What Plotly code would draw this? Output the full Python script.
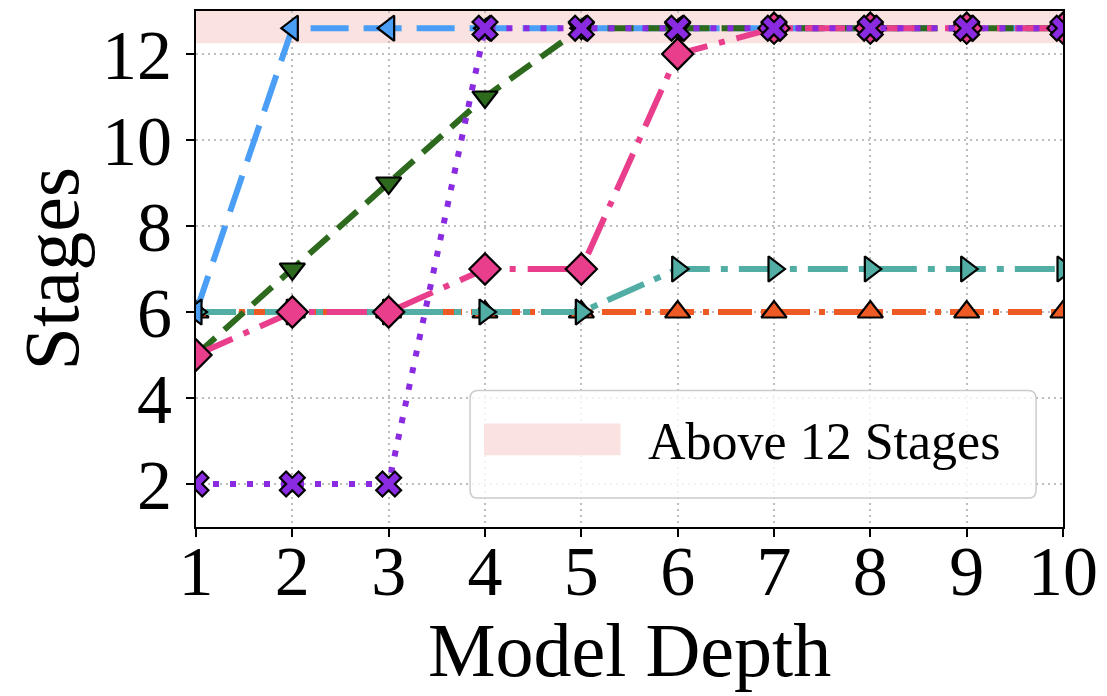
import plotly.graph_objects as go

# ---------------- data ----------------
depth = [1, 2, 3, 4, 5, 6, 7, 8, 9, 10]
CAP = 12.6  # values above 12 stages are drawn inside the shaded band
stages_orange = [6, 6, 6, 6, 6, 6, 6, 6, 6, 6]
stages_teal = [6, 6, 6, 6, 6, 7, 7, 7, 7, 7]
stages_blue = [6, CAP, CAP, CAP, CAP, CAP, CAP, CAP, CAP, CAP]
stages_green = [5, 7, 9, 11, CAP, CAP, CAP, CAP, CAP, CAP]
stages_pink = [5, 6, 6, 7, 7, 12, CAP, CAP, CAP, CAP]
stages_purple = [2, 2, 2, CAP, CAP, CAP, CAP, CAP, CAP, CAP]
y_ticks = [2, 4, 6, 8, 10, 12]
band_low, band_high = 12.25, 13
legend_label = "Above 12 Stages"

# ---------------- styles ----------------
FONT = "Liberation Serif"
BAND = "#f9e2df"
W, H = 1107, 696
ML, MR, MT, MB = 196, 41, 9, 169
PW, PH = W - ML - MR, H - MT - MB


def px_x(px):
    return (px - ML) / PW


def px_y(py):
    return (H - MB - py) / PH


series = [
    (stages_orange, "#ee5a24", "34px,9px,6px,9px", "triangle-up", 22),
    (stages_teal, "#52aea4", "40px,11px,7px,11px", "triangle-right", 22),
    (stages_blue, "#4a9ef5", "38px,15px", "triangle-left", 22),
    (stages_green, "#2d6a1e", "26px,12px", "triangle-down", 22),
    (stages_pink, "#e83e8c", "40px,12px,6px,12px", "diamond", 24),
    (stages_purple, "#8a2be2", "6px,11px", "x", 22),
]

fig = go.Figure()
for vals, color, dash, sym, size in series:
    fig.add_trace(go.Scatter(
        x=depth, y=vals, mode="lines+markers", showlegend=False,
        line=dict(color=color, width=6, dash=dash),
        marker=dict(symbol=sym, size=size, color=color,
                    line=dict(color="black", width=2.2)),
    ))

# shaded band "Above 12 Stages"
fig.add_shape(type="rect", xref="paper", yref="y", x0=0, x1=1,
              y0=band_low, y1=band_high, fillcolor=BAND, line_width=0,
              layer="between")

# manual legend box with rounded corners
bx0, bx1, by0, by1 = px_x(471), px_x(1039), px_y(498), px_y(390)
rx, ry = 8 / PW, 8 / PH
path = (f"M {bx0+rx},{by0} L {bx1-rx},{by0} Q {bx1},{by0} {bx1},{by0+ry} "
        f"L {bx1},{by1-ry} Q {bx1},{by1} {bx1-rx},{by1} "
        f"L {bx0+rx},{by1} Q {bx0},{by1} {bx0},{by1-ry} "
        f"L {bx0},{by0+ry} Q {bx0},{by0} {bx0+rx},{by0} Z")
fig.add_shape(type="path", xref="paper", yref="paper", path=path,
              fillcolor="rgba(255,255,255,0.8)",
              line=dict(color="#cccccc", width=1.5), layer="above")
fig.add_shape(type="rect", xref="paper", yref="paper",
              x0=px_x(485), x1=px_x(622), y0=px_y(455), y1=px_y(423),
              fillcolor=BAND, line_width=0, layer="above")
fig.add_annotation(x=px_x(648), y=px_y(441), xref="paper", yref="paper",
                   text=legend_label, showarrow=False, xanchor="left",
                   yanchor="middle", font=dict(family=FONT, size=52, color="black"))

# axis titles
fig.add_annotation(x=0.5, y=px_y(650), xref="paper", yref="paper",
                   text="Model Depth", showarrow=False, xanchor="center",
                   yanchor="middle", font=dict(family=FONT, size=76, color="black"))
fig.add_annotation(x=px_x(50), y=0.5, xref="paper", yref="paper",
                   text="Stages", showarrow=False, textangle=-90, xanchor="center",
                   yanchor="middle", font=dict(family=FONT, size=78, color="black"))

axis_common = dict(
    showline=True, linecolor="black", linewidth=2, mirror=True,
    ticks="outside", ticklen=8, tickwidth=2, tickcolor="black",
    showgrid=True, gridcolor="#bdbdbd", gridwidth=2, griddash="2px,4px",
    zeroline=False, tickfont=dict(family=FONT, size=70, color="black"),
)
fig.update_xaxes(range=[1, 10], tickvals=depth, ticklabelstandoff=-26, **axis_common)
fig.update_yaxes(range=[1, 13], tickvals=y_ticks, **axis_common)

fig.update_layout(
    width=W, height=H, margin=dict(l=ML, r=MR, t=MT, b=MB),
    paper_bgcolor="white", plot_bgcolor="white", showlegend=False,
    font=dict(family=FONT, color="black"),
)

fig.write_html("out.html")
